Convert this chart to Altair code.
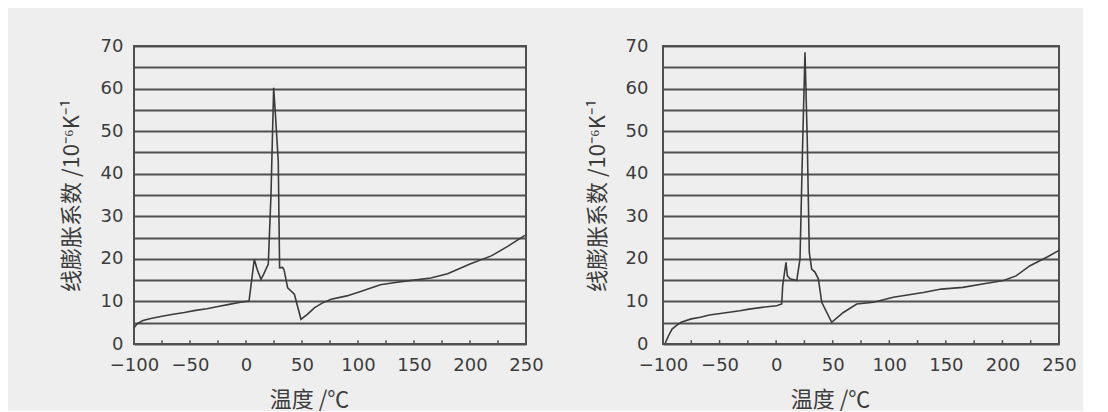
import altair as alt
import pandas as pd

# ---------------- data ----------------
left_temp = [-100, -97, -92, -85, -75, -65, -55, -45, -35, -25, -15, -5, 2.7,
             7.4, 10, 13.4, 15.8, 19.9, 22.3, 24.7, 26, 28.8, 30, 32.7, 34,
             37.2, 43.2, 49.1, 55, 61, 68, 76, 90, 103, 120, 135, 150, 165,
             180, 200, 219, 234, 249]
left_cte = [3.8, 4.8, 5.5, 6.0, 6.5, 7.0, 7.4, 7.9, 8.3, 8.8, 9.3, 9.8, 10.1,
            19.9, 17.5, 15.2, 16.4, 18.8, 35, 60.2, 55, 43, 17.9, 18.0, 17.4,
            13.2, 11.7, 5.8, 7.0, 8.5, 9.6, 10.5, 11.3, 12.4, 13.9, 14.5, 15.0,
            15.5, 16.5, 18.8, 20.7, 23.0, 25.5]

right_temp = [-98, -95, -92, -88, -84, -75, -67, -59, -43, -32, -24, -10, 0.5,
              4.9, 5.8, 8.7, 9.9, 12.3, 18.2, 21.1, 23.5, 25.5, 27.5, 29.3,
              31.4, 34.3, 37.3, 40.3, 49.1, 59.4, 71.2, 86, 103.5, 130, 146,
              165, 185, 201, 212, 224.4, 240, 250]
right_cte = [0.2, 2.0, 3.5, 4.4, 5.1, 5.9, 6.3, 6.8, 7.4, 7.8, 8.2, 8.7, 9.0,
             9.4, 13.7, 19.2, 16.0, 15.3, 14.9, 20.0, 48, 68.5, 48, 21.5,
             17.6, 16.9, 15.3, 9.8, 5.1, 7.4, 9.4, 9.8, 11.0, 12.1, 12.9,
             13.3, 14.2, 14.9, 16.0, 18.4, 20.5, 22.0]

x_label_values = [-100, -50, 0, 50, 100, 150, 200, 250]
x_minor_ticks = [-75, -50, -25, 0, 25, 50, 75, 100, 125, 150, 175, 200, 225]
y_grid_values = [0, 5, 10, 15, 20, 25, 30, 35, 40, 45, 50, 55, 60, 65, 70]

x_title = "温度 /℃"
y_title = "线膨胀系数 /10⁻⁶K⁻¹"

INK = "#3c3c3c"
GRID = "#505050"
BG = "#eeeeee"
NUM_FONT = "DejaVu Sans"
CJK_FONT = "Noto Sans CJK SC"


def panel(temps, ctes, width, title_x, y_title_pad, y_label_pad):
    df = pd.DataFrame({"T": temps, "a": ctes})
    ticks_df = pd.DataFrame({"T": x_minor_ticks})

    x_enc = alt.X(
        "T:Q",
        scale=alt.Scale(domain=[-100, 250], nice=False, zero=False),
        axis=alt.Axis(
            values=x_label_values, title=x_title, grid=False, ticks=False,
            domain=False, labelFlush=False, labelOverlap=False,
            labelPadding=12, titlePadding=15, titleX=title_x,
            labelFont=NUM_FONT, labelFontSize=18, labelColor=INK,
            titleFont=CJK_FONT, titleFontSize=22, titleColor=INK,
            titleFontWeight="normal",
        ),
    )
    y_axis = alt.Axis(
        values=y_grid_values, title=y_title, grid=True, gridColor=GRID,
        gridWidth=2, gridOpacity=1, ticks=False, domain=False,
        labelExpr="datum.value % 10 === 0 ? datum.label : ''",
        labelOverlap=False, labelFlush=False, labelPadding=y_label_pad,
        titlePadding=y_title_pad,
        labelFont=NUM_FONT, labelFontSize=18, labelColor=INK,
        titleFont=CJK_FONT, titleFontSize=22, titleColor=INK,
        titleFontWeight="normal",
    )
    y_scale = alt.Scale(domain=[0, 70], nice=False, zero=False)

    line = alt.Chart(df).mark_line(color=INK, strokeWidth=1.6).encode(
        x=x_enc,
        y=alt.Y("a:Q", scale=y_scale, axis=y_axis),
        order="T:Q",
    )
    ticks = alt.Chart(ticks_df).mark_rule(color=GRID, strokeWidth=1.5).encode(
        x=x_enc,
        y=alt.datum(0, scale=y_scale, axis=y_axis),
        y2=alt.datum(0.9),
    )
    return alt.layer(ticks, line).properties(width=width, height=298)


left = panel(left_temp, left_cte, 392, 175, 17, 11)
right = panel(right_temp, right_cte, 396, 167, 16, 15)

chart = (
    alt.hconcat(left, right, spacing=40)
    .properties(padding={"left": 51, "top": 28, "right": 5, "bottom": 0},
                background=BG)
    .configure_view(stroke=GRID, strokeWidth=2)
)

chart.save("out.html", embed_options={"renderer": "svg", "actions": False})
